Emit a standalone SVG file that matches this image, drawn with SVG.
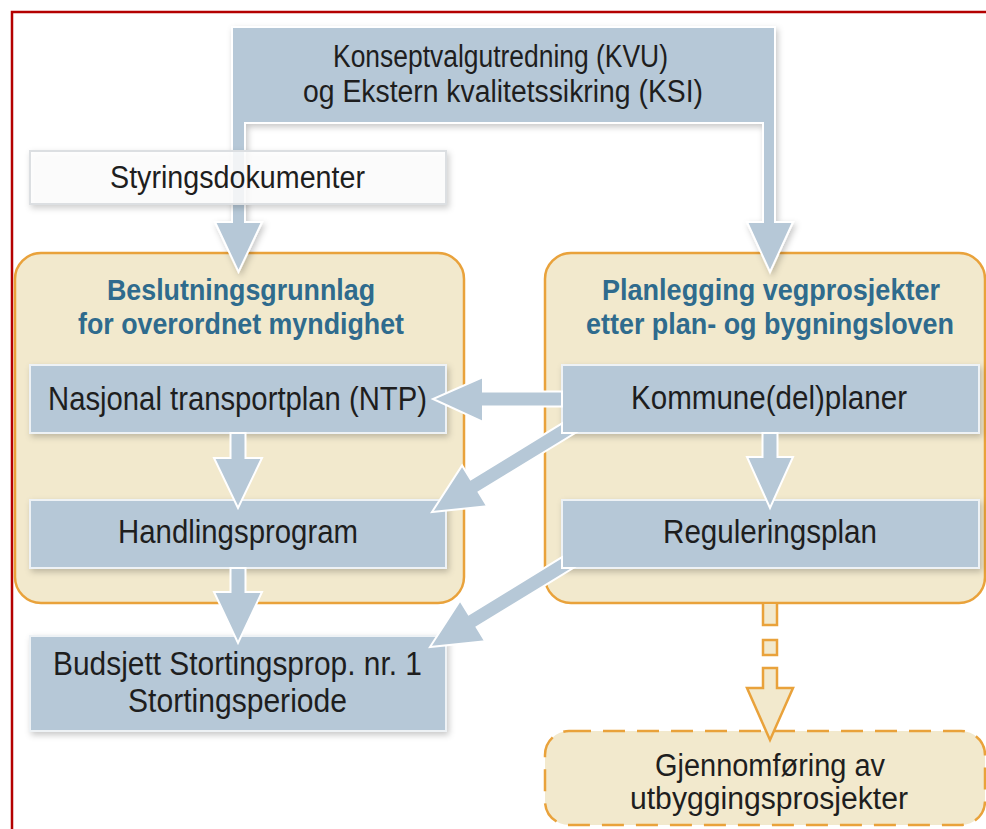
<svg xmlns="http://www.w3.org/2000/svg" width="986" height="829" viewBox="0 0 986 829">
<defs>
<filter id="sh" x="-10%" y="-10%" width="120%" height="130%"><feDropShadow dx="2" dy="3" stdDeviation="3" flood-color="#000" flood-opacity="0.22"/></filter>
</defs>
<style>
.frame{fill:none;stroke:#b40000;stroke-width:2.5}
.cont{fill:#f2e9cd;stroke:#e9a23b;stroke-width:2.5}
.dash{fill:#f2e9cd;stroke:#e9a23b;stroke-width:2.5;stroke-dasharray:22 12}
.box{fill:#b6c8d7;stroke:#eef2f5;stroke-width:2}
.wbox{fill:#ffffff;fill-opacity:0.82;stroke:#dcdfe2;stroke-width:2}
.arr{fill:#b6c8d7;stroke:#ffffff;stroke-width:2;stroke-linejoin:miter}
.oarr{fill:#f2e9cd;stroke:#e9a23b;stroke-width:2.5;stroke-linejoin:miter}
.t{font-family:"Liberation Sans",Arial,sans-serif;font-size:33px;fill:#1e1e1e}
.s{font-size:31px}
.g{font-size:31px}
.h{font-family:"Liberation Sans",Arial,sans-serif;font-size:29px;font-weight:bold;fill:#2f6b8d}
</style>
<rect width="986" height="829" fill="#ffffff"/>
<path class="frame" d="M12,829 V12 H986"/>

<g id="container-left"><rect class="cont" x="15" y="253" width="449" height="350" rx="26"/>
<text class="h" x="107" y="300" textLength="268" lengthAdjust="spacingAndGlyphs">Beslutningsgrunnlag</text>
<text class="h" x="78" y="334" textLength="326" lengthAdjust="spacingAndGlyphs">for overordnet myndighet</text></g>

<g id="container-right"><rect class="cont" x="545" y="253" width="440" height="350" rx="26"/>
<text class="h" x="602" y="300" textLength="338" lengthAdjust="spacingAndGlyphs">Planlegging vegprosjekter</text>
<text class="h" x="586" y="334" textLength="368" lengthAdjust="spacingAndGlyphs">etter plan- og bygningsloven</text></g>

<g id="kvu"><polygon class="arr" filter="url(#sh)" points="232,27 775,27 775,222 793,222 770,272 747,222 763,222 763,123 245,123 245,222 262,222 238.5,272 215,222 232,222"/>
<text class="t s" x="333" y="67" textLength="335" lengthAdjust="spacingAndGlyphs">Konseptvalgutredning (KVU)</text>
<text class="t s" x="303" y="102" textLength="400" lengthAdjust="spacingAndGlyphs">og Ekstern kvalitetssikring (KSI)</text></g>

<g id="styringsdokumenter"><rect class="wbox" filter="url(#sh)" x="30" y="151" width="416" height="53"/>
<text class="t s" x="110" y="188" textLength="255" lengthAdjust="spacingAndGlyphs">Styringsdokumenter</text></g>

<g id="ntp"><rect class="box" filter="url(#sh)" x="30" y="365" width="416" height="68"/>
<text class="t" x="48" y="410" textLength="379" lengthAdjust="spacingAndGlyphs">Nasjonal transportplan (NTP)</text></g>

<g id="handlingsprogram"><rect class="box" filter="url(#sh)" x="30" y="500" width="416" height="68"/>
<text class="t" x="118" y="543" textLength="240" lengthAdjust="spacingAndGlyphs">Handlingsprogram</text></g>

<g id="budsjett"><rect class="box" filter="url(#sh)" x="30" y="636" width="416" height="95"/>
<text class="t" x="53" y="675" textLength="369" lengthAdjust="spacingAndGlyphs">Budsjett Stortingsprop. nr. 1</text>
<text class="t" x="128" y="712" textLength="219" lengthAdjust="spacingAndGlyphs">Stortingsperiode</text></g>

<g id="kommune"><rect class="box" filter="url(#sh)" x="562" y="365" width="417" height="68"/>
<text class="t" x="631" y="409" textLength="276" lengthAdjust="spacingAndGlyphs">Kommune(del)planer</text></g>

<g id="regulering"><rect class="box" filter="url(#sh)" x="562" y="500" width="417" height="68"/>
<text class="t" x="663" y="543" textLength="214" lengthAdjust="spacingAndGlyphs">Reguleringsplan</text></g>

<g id="gjennomforing"><rect class="dash" x="545" y="731" width="440" height="94" rx="24"/>
<text class="t g" x="655" y="776" textLength="230" lengthAdjust="spacingAndGlyphs">Gjennomføring av</text>
<text class="t g" x="630" y="809" textLength="278" lengthAdjust="spacingAndGlyphs">utbyggingsprosjekter</text></g>

<g id="connectors">
<polygon class="arr" points="230.5,433 245.5,433 245.5,458 262,458 238,508 214,458 230.5,458"/>
<polygon class="arr" points="230.5,568 245.5,568 245.5,592 262,592 238,643 214,592 230.5,592"/>
<polygon class="arr" points="762.5,433 777.5,433 777.5,457 793,457 770,508 747,457 762.5,457"/>
<polygon class="arr" points="562,391.5 483,391.5 483,377 433,399 483,422 483,406.5 562,406.5"/>
<polygon class="arr" points="562,423.4 470.7,479.4 462.1,465.4 432,512 487.2,506.3 478.6,492.2 575.2,433 562,433"/>
<polygon class="arr" points="562,557.2 468.7,614.4 460.1,600.4 430,647 485.2,641.3 476.6,627.2 573.2,568 562,568"/>
<path class="oarr" d="M763,604 V625 H777 V604"/>
<rect class="oarr" x="763" y="640" width="14" height="15"/>
<path class="oarr" d="M763,668 H777 V688 H793 L770,740 L747,688 H763 Z"/>
</g>
</svg>
